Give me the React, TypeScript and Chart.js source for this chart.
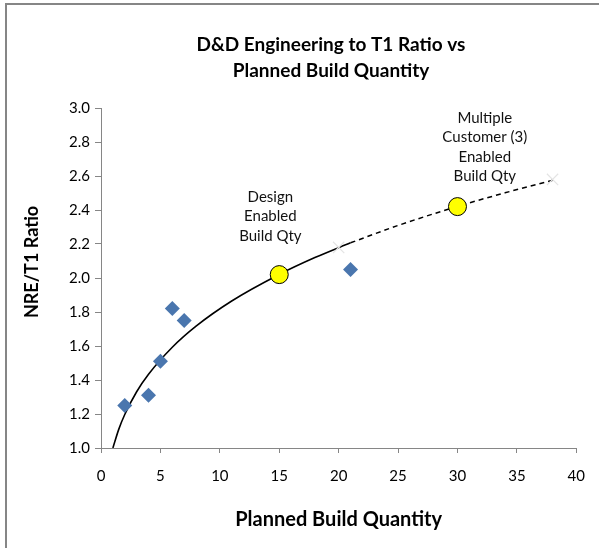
import React, { useEffect, useRef } from 'react';
import { Chart, registerables } from 'chart.js';

Chart.register(...registerables);

// ---- data ----
const titleLines = ['D&D Engineering to T1 Ratio vs', 'Planned Build Quantity'];
const xAxisTitle = 'Planned Build Quantity';
const yAxisTitle = 'NRE/T1 Ratio';

const xTickMin = 0;
const xTickMax = 40;
const xTickStep = 5;
const yTickMin = 1.0;
const yTickMax = 3.0;
const yTickStep = 0.2;

// observed programs (blue diamonds)
const actualQty = [2, 4, 5, 6, 7, 21];
const actualRatio = [1.25, 1.31, 1.51, 1.82, 1.75, 2.05];

// milestone quantities (yellow circles)
const milestoneQty = [15, 30];
const milestoneRatio = [2.02, 2.42];

// fitted trend (solid)
const fitQty = [1, 1.5, 2, 3, 4, 6, 8, 11, 15, 18, 21];
const fitRatio = [1.0, 1.111, 1.197, 1.331, 1.434, 1.593, 1.717, 1.865, 2.021, 2.12, 2.207];

// projected trend (dashed)
const projQty = [21, 25, 30, 34, 38];
const projRatio = [2.207, 2.309, 2.421, 2.501, 2.575];

// faint end markers
const endQty = [20, 38];
const endRatio = [2.18, 2.58];

const designLabel = ['Design', 'Enabled', 'Build Qty'];
const multiLabel = ['Multiple', 'Customer (3)', 'Enabled', 'Build Qty'];

const pts = (xs: number[], ys: number[]) => xs.map((x, i) => ({ x, y: ys[i] }));

const FONT = 'Lato';

const textPlugin = {
  id: 'chartTexts',
  afterDraw(chart: any) {
    const ctx = chart.ctx as CanvasRenderingContext2D;
    const xs = chart.scales.x;
    const ys = chart.scales.y;
    ctx.save();
    ctx.fillStyle = '#000';
    ctx.textAlign = 'center';
    ctx.textBaseline = 'middle';

    ctx.font = `bold 19px ${FONT}`;
    titleLines.forEach((t, i) => ctx.fillText(t, 331, 45 + i * 26));

    ctx.font = `bold 20px ${FONT}`;
    ctx.fillText(xAxisTitle, (xs.left + xs.right) / 2, 520);

    ctx.font = `bold 18px ${FONT}`;
    ctx.save();
    ctx.translate(32, 262);
    ctx.rotate(-Math.PI / 2);
    ctx.fillText(yAxisTitle, 0, 0);
    ctx.restore();

    ctx.font = `15px ${FONT}`;
    ctx.fillStyle = '#111';
    const dx = xs.getPixelForValue(14.25);
    const dy = ys.getPixelForValue(2.476);
    designLabel.forEach((t, i) => ctx.fillText(t, dx, dy + i * 19.5));
    const mx = xs.getPixelForValue(32.3);
    const my = ys.getPixelForValue(2.94);
    multiLabel.forEach((t, i) => ctx.fillText(t, mx, my + i * 19.3));
    ctx.restore();
  },
};

export default function App() {
  const ref = useRef<HTMLCanvasElement | null>(null);

  useEffect(() => {
    if (!ref.current) return;
    Chart.defaults.font.family = FONT;
    const chart = new Chart(ref.current, {
      type: 'scatter',
      data: {
        datasets: [
          {
            label: 'Milestones',
            data: pts(milestoneQty, milestoneRatio),
            pointStyle: 'circle',
            pointRadius: 9,
            pointBackgroundColor: '#FFFF00',
            pointBorderColor: '#000',
            pointBorderWidth: 1,
            showLine: false,
          },
          {
            label: 'Actual',
            data: pts(actualQty, actualRatio),
            pointStyle: 'rectRot',
            pointRadius: 7.5,
            pointBackgroundColor: '#4A76AE',
            pointBorderColor: '#4A76AE',
            pointBorderWidth: 0,
            showLine: false,
          },
          {
            label: 'End',
            data: pts(endQty, endRatio),
            pointStyle: 'crossRot',
            pointRadius: 8,
            pointBorderColor: '#E4E4E4',
            pointBorderWidth: 1.2,
            showLine: false,
          },
          {
            label: 'Fit',
            data: pts(fitQty, fitRatio),
            showLine: true,
            borderColor: '#000',
            borderWidth: 1.6,
            pointRadius: 0,
            cubicInterpolationMode: 'monotone',
          },
          {
            label: 'Projection',
            data: pts(projQty, projRatio),
            showLine: true,
            borderColor: '#000',
            borderWidth: 1.5,
            borderDash: [5, 4],
            pointRadius: 0,
            cubicInterpolationMode: 'monotone',
          },
        ],
      } as any,
      options: {
        animation: false,
        responsive: false,
        maintainAspectRatio: false,
        layout: { padding: { left: 0, top: 108, right: 19, bottom: 60 } },
        plugins: {
          legend: { display: false },
          title: { display: false },
          tooltip: { enabled: false },
        },
        scales: {
          x: {
            type: 'linear',
            min: xTickMin,
            max: xTickMax,
            ticks: { stepSize: xTickStep, color: '#000', font: { size: 15, family: FONT }, padding: 14 },
            grid: { drawOnChartArea: false, drawTicks: true, tickLength: 5, color: '#868686' },
            border: { color: '#868686', width: 1 },
            afterFit: (s: any) => {
              s.height = 40;
            },
          },
          y: {
            type: 'linear',
            min: yTickMin,
            max: yTickMax,
            ticks: {
              stepSize: yTickStep,
              color: '#000',
              font: { size: 15, family: FONT },
              padding: 5,
              callback: (v: any) => Number(v).toFixed(1),
            },
            grid: { drawOnChartArea: false, drawTicks: true, tickLength: 6, color: '#868686' },
            border: { color: '#868686', width: 1 },
            afterFit: (s: any) => {
              s.width = 101;
            },
          },
        },
      } as any,
      plugins: [textPlugin],
    });
    return () => chart.destroy();
  }, []);

  return (
    <div
      style={{
        position: 'fixed',
        left: 0,
        top: 0,
        width: 599,
        height: 548,
        overflow: 'hidden',
        background: '#fff',
      }}
    >
      <div
        style={{
          position: 'absolute',
          left: 5,
          top: 3,
          width: 800,
          height: 800,
          borderLeft: '2px solid #868686',
          borderTop: '2px solid #868686',
        }}
      />
      <canvas
        ref={ref}
        width={599}
        height={548}
        style={{ position: 'absolute', left: 0, top: 0, width: 599, height: 548 }}
      />
    </div>
  );
}
